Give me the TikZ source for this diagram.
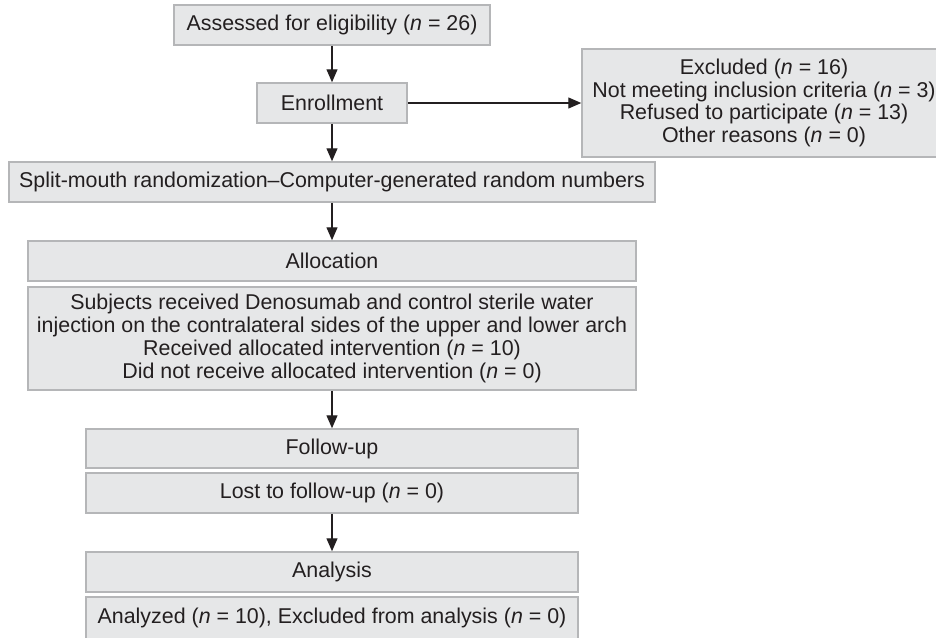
\documentclass[tikz,border=0pt]{standalone}
\usepackage{fontspec}
\setmainfont{Liberation Sans}
\usetikzlibrary{arrows.meta}
\definecolor{boxfill}{HTML}{E6E7E8}
\definecolor{boxline}{HTML}{B5B6B8}
\definecolor{ink}{HTML}{231F20}
\begin{document}
\begin{tikzpicture}[x=1pt,y=-1pt,
  box/.style={draw=boxline, fill=boxfill, line width=1.5pt, inner sep=0pt,
    align=center, text=ink, font=\fontsize{21.4}{22.8}\selectfont},
  conn/.style={draw=ink, line width=1.3pt, -{Triangle[length=13pt,width=11pt]}}]
\useasboundingbox (0,0) rectangle (936,637);
\node[box, minimum width=316pt, minimum height=40pt] (assess) at (332,25) {Assessed for eligibility (\textit{n} = 26)};
\node[box, minimum width=150pt, minimum height=40pt] (enroll) at (332,103) {Enrollment};
\node[box, minimum width=364pt, minimum height=108pt] (excl) at (764,103) {Excluded (\textit{n} = 16)\\Not meeting inclusion criteria (\textit{n} = 3)\\Refused to participate (\textit{n} = 13)\\Other reasons (\textit{n} = 0)};
\node[box, minimum width=646pt, minimum height=40pt] (split) at (332,182) {Split-mouth randomization--Computer-generated random numbers};
\node[box, minimum width=608pt, minimum height=103pt] (subj) at (332,338.5) {Subjects received Denosumab and control sterile water\\injection on the contralateral sides of the upper and lower arch\\Received allocated intervention (\textit{n} = 10)\\Did not receive allocated intervention (\textit{n} = 0)};
\node[box, minimum width=608pt, minimum height=40pt] (alloc) at (332,261) {Allocation};
\node[box, minimum width=492pt, minimum height=39pt] (follow) at (332,448.5) {Follow-up};
\node[box, minimum width=492pt, minimum height=40pt] (lost) at (332,493) {Lost to follow-up (\textit{n} = 0)};
\node[box, minimum width=492pt, minimum height=40pt] (analysis) at (332,572) {Analysis};
\node[box, minimum width=492pt, minimum height=42pt] (analyzed) at (332,618) {Analyzed (\textit{n} = 10), Excluded from analysis (\textit{n} = 0)};
\draw[conn] (assess) -- (enroll);
\draw[conn] (enroll) -- (excl);
\draw[conn] (enroll) -- (split);
\draw[conn] (split) -- (alloc);
\draw[conn] (subj) -- (follow);
\draw[conn] (lost) -- (analysis);
\end{tikzpicture}
\end{document}
